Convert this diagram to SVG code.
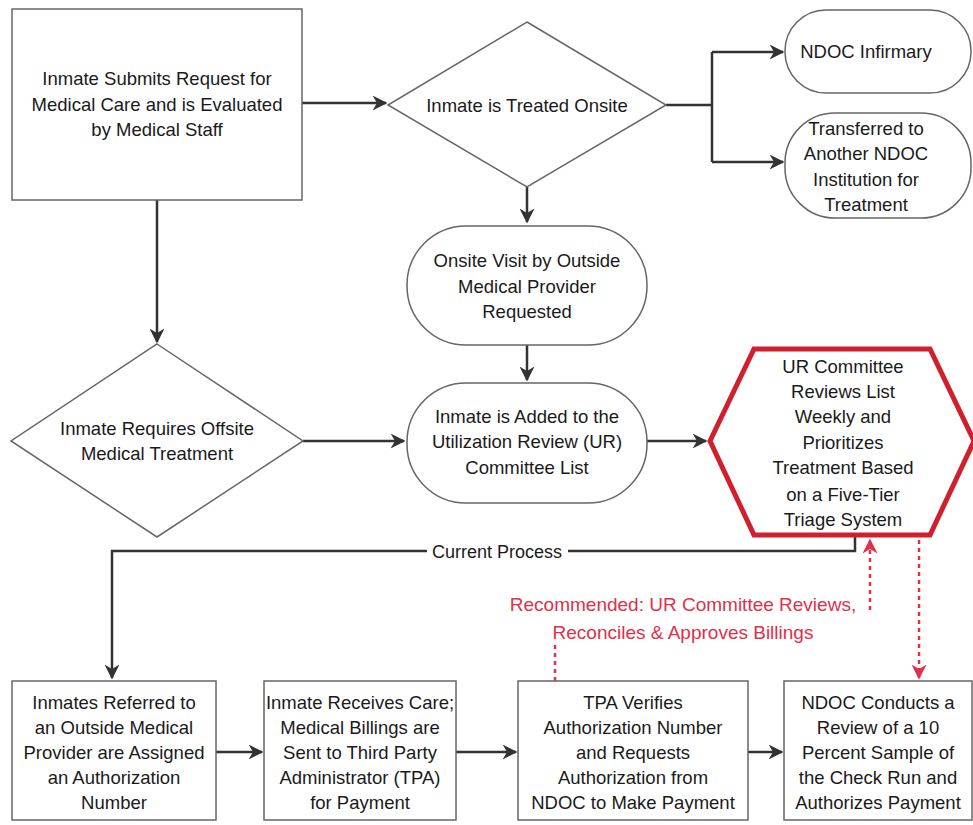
<svg xmlns="http://www.w3.org/2000/svg" width="973" height="825" viewBox="0 0 973 825">
<defs>
<style>
.n{fill:#fff;stroke:#666;stroke-width:1.5}
.t{font-family:"Liberation Sans",Arial,sans-serif;font-size:18.5px;fill:#1a1a1a;text-anchor:middle}
.c{fill:none;stroke:#333;stroke-width:2.5}
.r{fill:none;stroke:#e0304a;stroke-width:2.5;stroke-dasharray:4 4}
.rt{font-family:"Liberation Sans",Arial,sans-serif;font-size:19px;fill:#e0304a;text-anchor:middle}
</style>
<marker id="a" viewBox="0 0 10 10" refX="9" refY="5" markerWidth="6" markerHeight="6" orient="auto"><path d="M0,0 L10,5 L0,10 L3,5 z" fill="#333"/></marker>
<marker id="ar" viewBox="0 0 10 10" refX="9" refY="5" markerWidth="6" markerHeight="6" orient="auto"><path d="M0,0 L10,5 L0,10 L3,5 z" fill="#e0304a"/></marker>
</defs>
<rect width="973" height="825" fill="#fff"/>
<g id="connectors">
<path class="c" d="M302,103 H386" marker-end="url(#a)"/>
<path class="c" d="M666,105 H712 M712,52 V162"/>
<path class="c" d="M712,52 H783" marker-end="url(#a)"/>
<path class="c" d="M712,162 H783" marker-end="url(#a)"/>
<path class="c" d="M527,187 V222" marker-end="url(#a)"/>
<path class="c" d="M527,345 V380" marker-end="url(#a)"/>
<path class="c" d="M157,200 V342" marker-end="url(#a)"/>
<path class="c" d="M303,441 H404" marker-end="url(#a)"/>
<path class="c" d="M647,441 H706" marker-end="url(#a)"/>
<path class="c" d="M855,537 V551 H112 V678" marker-end="url(#a)"/>
<path class="c" d="M216,752 H262" marker-end="url(#a)"/>
<path class="c" d="M456,752 H516" marker-end="url(#a)"/>
<path class="c" d="M748,752 H782" marker-end="url(#a)"/>
<rect x="427" y="540" width="141" height="22" fill="#fff"/>
<text x="497" y="558" class="t" style="font-size:18px">Current Process</text>
<path class="r" d="M870,610 V540" marker-end="url(#ar)"/>
<path class="r" d="M919,540 V678" marker-end="url(#ar)"/>
<path class="r" d="M555,645 V681"/>
</g>
<g id="submit">
<rect class="n" x="12" y="9" width="290" height="191"/>
<text class="t" x="157" y="85">Inmate Submits Request for</text>
<text class="t" x="157" y="111">Medical Care and is Evaluated</text>
<text class="t" x="157" y="136">by Medical Staff</text>
</g>
<g id="treated">
<polygon class="n" points="527,22 666,105 527,187 388,105"/>
<text class="t" x="527" y="112">Inmate is Treated Onsite</text>
</g>
<g id="infirmary">
<rect class="n" x="785" y="10" width="186" height="83" rx="41"/>
<text class="t" x="866" y="58">NDOC Infirmary</text>
</g>
<g id="transferred">
<rect class="n" x="785" y="113" width="186" height="105" rx="50"/>
<text class="t" x="866" y="135">Transferred to</text>
<text class="t" x="866" y="160">Another NDOC</text>
<text class="t" x="866" y="186">Institution for</text>
<text class="t" x="866" y="211">Treatment</text>
</g>
<g id="onsite">
<rect class="n" x="407" y="226" width="240" height="119" rx="59"/>
<text class="t" x="527" y="267">Onsite Visit by Outside</text>
<text class="t" x="527" y="293">Medical Provider</text>
<text class="t" x="527" y="318">Requested</text>
</g>
<g id="offsite">
<polygon class="n" points="157,344 303,441 157,537 11,441"/>
<text class="t" x="157" y="435">Inmate Requires Offsite</text>
<text class="t" x="157" y="460">Medical Treatment</text>
</g>
<g id="added">
<rect class="n" x="407" y="383" width="240" height="120" rx="59"/>
<text class="t" x="527" y="423">Inmate is Added to the</text>
<text class="t" x="527" y="448">Utilization Review (UR)</text>
<text class="t" x="527" y="474">Committee List</text>
</g>
<g id="urcommittee">
<polygon points="710,441 754,349 930,349 974,441 930,535 754,535" fill="#fff" stroke="#d0202e" stroke-width="5"/>
<text class="t" x="843" y="373">UR Committee</text>
<text class="t" x="843" y="398">Reviews  List</text>
<text class="t" x="843" y="423">Weekly and</text>
<text class="t" x="843" y="449">Prioritizes</text>
<text class="t" x="843" y="474">Treatment  Based</text>
<text class="t" x="843" y="501">on  a Five-Tier</text>
<text class="t" x="843" y="526">Triage System</text>
</g>
<g id="recommended">
<text class="rt" x="683" y="611">Recommended: UR Committee Reviews,</text>
<text class="rt" x="683" y="639">Reconciles &amp; Approves Billings</text>
</g>
<g id="referred">
<rect class="n" x="12" y="681" width="204" height="139"/>
<text class="t" x="114" y="709">Inmates Referred to</text>
<text class="t" x="114" y="734">an Outside Medical</text>
<text class="t" x="114" y="759">Provider are Assigned</text>
<text class="t" x="114" y="784">an Authorization</text>
<text class="t" x="114" y="809">Number</text>
</g>
<g id="receives">
<rect class="n" x="264" y="681" width="192" height="139"/>
<text class="t" x="360" y="709">Inmate Receives Care;</text>
<text class="t" x="360" y="734">Medical Billings are</text>
<text class="t" x="360" y="759">Sent to Third Party</text>
<text class="t" x="360" y="784">Administrator (TPA)</text>
<text class="t" x="360" y="809">for Payment</text>
</g>
<g id="tpa">
<rect class="n" x="518" y="681" width="230" height="139"/>
<text class="t" x="633" y="709">TPA Verifies</text>
<text class="t" x="633" y="734">Authorization Number</text>
<text class="t" x="633" y="759">and Requests</text>
<text class="t" x="633" y="784">Authorization from</text>
<text class="t" x="633" y="809">NDOC to Make Payment</text>
</g>
<g id="ndocreview">
<rect class="n" x="784" y="681" width="188" height="139"/>
<text class="t" x="878" y="709">NDOC Conducts a</text>
<text class="t" x="878" y="734">Review of a 10</text>
<text class="t" x="878" y="759">Percent Sample of</text>
<text class="t" x="878" y="784">the Check Run and</text>
<text class="t" x="878" y="809">Authorizes Payment</text>
</g>
</svg>
